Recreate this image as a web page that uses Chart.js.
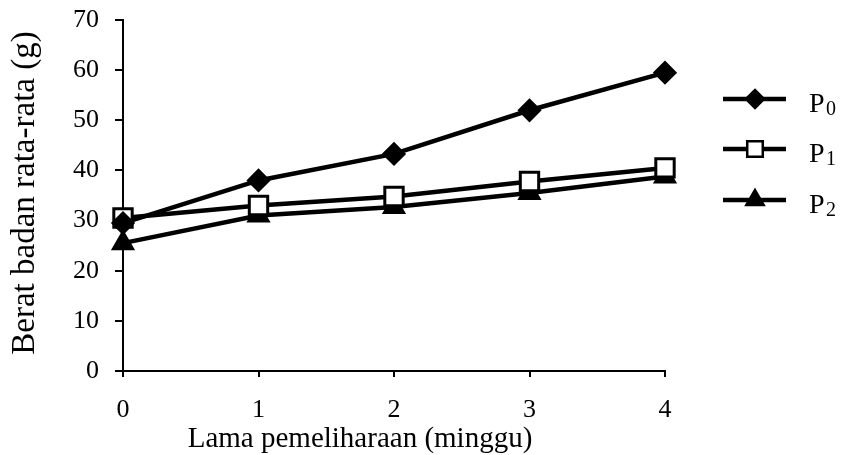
<!DOCTYPE html>
<html>
<head>
<meta charset="utf-8">
<script src="https://cdn.jsdelivr.net/npm/chart.js@4.4.1/dist/chart.umd.min.js"></script>
<style>
  html, body { margin: 0; padding: 0; background: #fff; }
  #wrap { width: 842px; height: 455px; position: relative; }
</style>
</head>
<body>
<div id="wrap"><canvas id="growthChart" width="842" height="455"></canvas></div>
<script>
// Berat badan rata-rata (g) per minggu pemeliharaan
var weeks = ["0", "1", "2", "3", "4"];
var p0 = [29.5, 38, 43.3, 52, 59.5];
var p1 = [30.5, 33, 34.8, 37.8, 40.5];
var p2 = [25.5, 31, 32.7, 35.5, 38.8];
var seriesNames = ["P0", "P1", "P2"];
var yTicks = [0, 10, 20, 30, 40, 50, 60, 70];

var serif = "'Liberation Serif', 'Times New Roman', serif";
Chart.defaults.font.family = serif;
Chart.defaults.color = "#000";

// titles + legend drawn by hand (subscripts, placement)
var extrasPlugin = {
  id: "extras",
  afterDraw: function (chart) {
    var ctx = chart.ctx;
    ctx.save();
    ctx.fillStyle = "#000";

    // x axis title
    ctx.font = "29px " + serif;
    ctx.textAlign = "center";
    ctx.textBaseline = "alphabetic";
    ctx.fillText("Lama pemeliharaan (minggu)", 360, 447);

    // y axis title
    ctx.save();
    ctx.translate(34, 193);
    ctx.rotate(-Math.PI / 2);
    ctx.font = "33px " + serif;
    ctx.fillText("Berat badan rata-rata (g)", 0, 0);
    ctx.restore();

    // legend
    var rows = [99, 149, 200];
    chart.data.datasets.forEach(function (ds, i) {
      var y = rows[i];
      ctx.strokeStyle = "#000";
      ctx.lineWidth = 4.5;
      ctx.beginPath();
      ctx.moveTo(723, y);
      ctx.lineTo(786, y);
      ctx.stroke();
      ctx.fillStyle = ds.pointBackgroundColor;
      ctx.strokeStyle = "#000";
      ctx.lineWidth = 2.5;
      Chart.helpers.drawPoint(ctx, {
        pointStyle: ds.pointStyle,
        radius: ds.legendRadius,
        borderWidth: 2.5
      }, 755, y);
      ctx.fillStyle = "#000";
      ctx.textAlign = "left";
      ctx.font = "28px " + serif;
      ctx.fillText(seriesNames[i].charAt(0), 809, y + 13);
      ctx.font = "20px " + serif;
      ctx.fillText(seriesNames[i].slice(1), 826, y + 16);
    });
    ctx.restore();
  }
};

function lineSet(label, values, style, fill, radius, legendRadius) {
  return {
    label: label,
    data: values,
    borderColor: "#000",
    borderWidth: 4.5,
    pointStyle: style,
    pointRadius: radius,
    pointHoverRadius: radius,
    pointBackgroundColor: fill,
    pointBorderColor: "#000",
    pointBorderWidth: 3,
    legendRadius: legendRadius,
    tension: 0,
    clip: false
  };
}

new Chart(document.getElementById("growthChart"), {
  type: "line",
  data: {
    labels: weeks,
    datasets: [
      lineSet(seriesNames[0], p0, "rectRot", "#000", 10, 9),
      lineSet(seriesNames[1], p1, "rect", "#fff", 13, 11),
      lineSet(seriesNames[2], p2, "triangle", "#000", 11, 10)
    ]
  },
  plugins: [extrasPlugin],
  options: {
    responsive: false,
    animation: false,
    events: [],
    layout: { padding: { left: 0, top: 20, right: 177, bottom: 0 } },
    plugins: {
      legend: { display: false },
      tooltip: { enabled: false }
    },
    scales: {
      x: {
        type: "category",
        offset: false,
        grid: {
          drawOnChartArea: false,
          drawTicks: true,
          tickLength: 6,
          color: "#000",
          lineWidth: 2
        },
        border: { color: "#000", width: 2 },
        ticks: { font: { size: 26 }, padding: 18, maxRotation: 0 },
        afterFit: function (scale) {
          scale.height = 84;
          scale.paddingLeft = 0;
          scale.paddingRight = 0;
        }
      },
      y: {
        min: 0,
        max: 70,
        afterBuildTicks: function (scale) {
          scale.ticks = yTicks.map(function (v) { return { value: v }; });
        },
        grid: {
          drawOnChartArea: false,
          drawTicks: true,
          tickLength: 8,
          color: "#000",
          lineWidth: 2
        },
        border: { color: "#000", width: 2 },
        ticks: { font: { size: 26 }, padding: 16 },
        afterFit: function (scale) {
          scale.width = 123;
          scale.paddingTop = 0;
          scale.paddingBottom = 0;
        }
      }
    }
  }
});
</script>
</body>
</html>
